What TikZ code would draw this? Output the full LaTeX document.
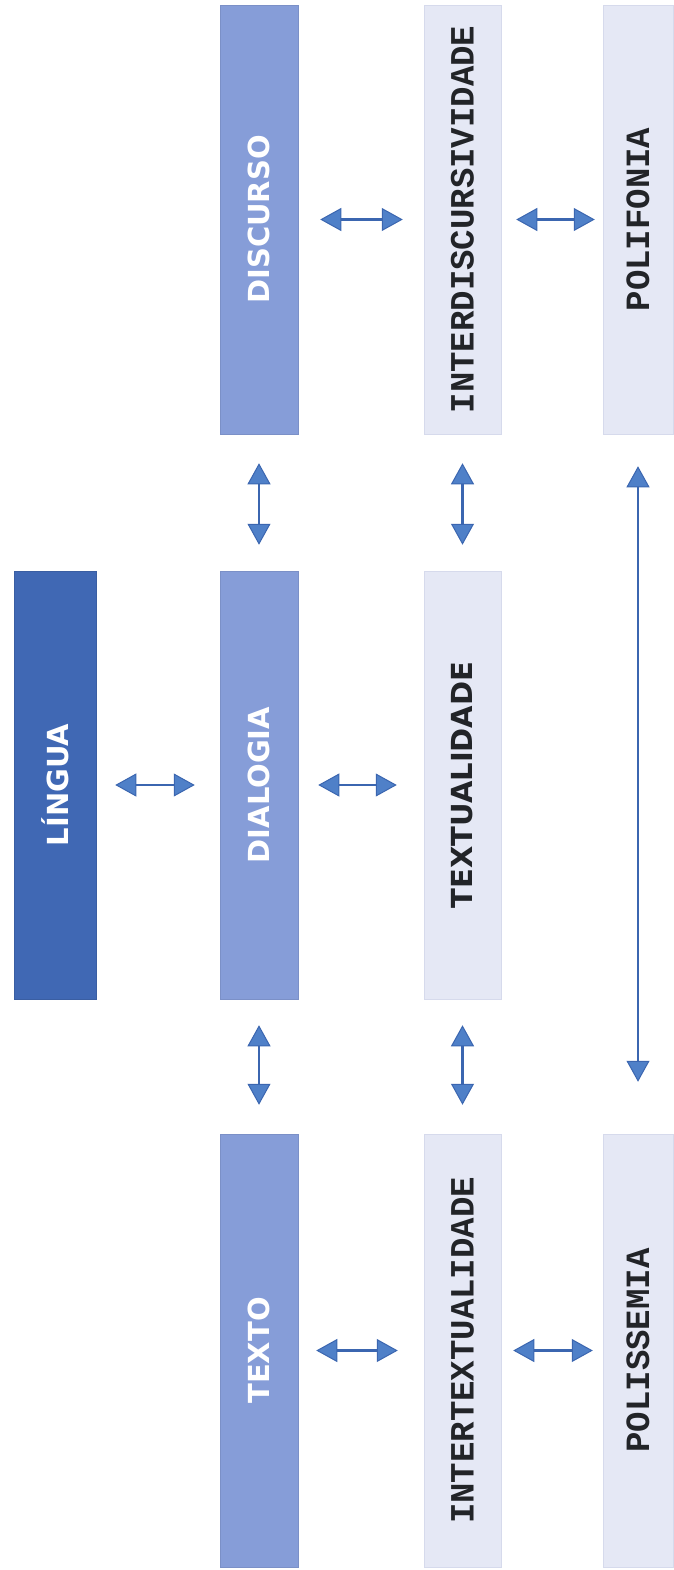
\documentclass[tikz,border=0pt]{standalone}
\usepackage{fontspec}
\usetikzlibrary{arrows.meta}
\newfontfamily\boxsans{DejaVu Sans}
\newfontfamily\boxmono{Liberation Mono}
\definecolor{darkblue}{HTML}{4068B4}
\definecolor{midblue}{HTML}{869DD8}
\definecolor{lightblue}{HTML}{E5E8F5}
\definecolor{lightedge}{HTML}{D6DAEC}
\definecolor{arrowline}{HTML}{3B66B0}
\definecolor{arrowfill}{HTML}{4F80C8}
\definecolor{inkdark}{HTML}{222428}
\begin{document}
\begin{tikzpicture}[x=1pt,y=-1pt,
  darkbox/.style={rectangle,fill=darkblue,draw=darkblue!90!black,line width=0.5pt,inner sep=0pt,
    text=white,font=\boxsans\bfseries\fontsize{29}{29}\selectfont},
  midbox/.style={rectangle,fill=midblue,draw=midblue!92!black,line width=0.5pt,inner sep=0pt,
    text=white,font=\boxsans\bfseries\fontsize{29}{29}\selectfont},
  lightsans/.style={rectangle,fill=lightblue,draw=lightedge,line width=0.5pt,inner sep=0pt,
    text=inkdark,font=\boxsans\bfseries\fontsize{29}{29}\selectfont},
  lightmono/.style={rectangle,fill=lightblue,draw=lightedge,line width=0.5pt,inner sep=0pt,
    text=inkdark,font=\boxmono\bfseries\fontsize{34}{34}\selectfont},
  colone/.style={minimum width=82pt},
  coltwo/.style={minimum width=78pt},
  colthree/.style={minimum width=77pt},
  colfour/.style={minimum width=70pt},
  rowone/.style={minimum height=429pt},
  rowtwo/.style={minimum height=428pt},
  rowthree/.style={minimum height=433pt},
  link/.style={draw=arrowline,line width=2.6pt,
    {Triangle[width=23pt,length=21pt,fill=arrowfill,line width=1pt]}-{Triangle[width=23pt,length=21pt,fill=arrowfill,line width=1pt]}},
  longlink/.style={draw=arrowline,line width=1.8pt,
    {Triangle[width=23pt,length=21pt,fill=arrowfill,line width=1pt]}-{Triangle[width=23pt,length=21pt,fill=arrowfill,line width=1pt]}}
]
\useasboundingbox (0,0) rectangle (673,1570);
\fill[white] (0,0) rectangle (673,1570);

% row 1
\node[midbox,coltwo,rowone] (discurso) at (259,219.5) {\rotatebox{90}{DISCURSO}};
\node[lightmono,colthree,rowone] (interdisc) at (462.5,219.5) {\rotatebox{90}{INTERDISCURSIVIDADE}};
\node[lightmono,colfour,rowone] (polifonia) at (638,219.5) {\rotatebox{90}{POLIFONIA}};

% row 2
\node[darkbox,colone,rowtwo] (lingua) at (55,785) {\rotatebox{90}{LÍNGUA}};
\node[midbox,coltwo,rowtwo] (dialogia) at (259,785) {\rotatebox{90}{DIALOGIA}};
\node[lightsans,colthree,rowtwo] (textualidade) at (462.5,785) {\rotatebox{90}{TEXTUALIDADE}};

% row 3
\node[midbox,coltwo,rowthree] (texto) at (259,1350.5) {\rotatebox{90}{TEXTO}};
\node[lightmono,colthree,rowthree] (intertext) at (462.5,1350.5) {\rotatebox{90}{INTERTEXTUALIDADE}};
\node[lightmono,colfour,rowthree] (polissemia) at (638,1350.5) {\rotatebox{90}{POLISSEMIA}};

% horizontal arrows
\draw[link,shorten <=22pt,shorten >=21pt] (discurso.east) -- (interdisc.west);
\draw[link,shorten <=15pt,shorten >=8pt] (interdisc.east) -- (polifonia.west);
\draw[link,shorten <=19pt,shorten >=25pt] (lingua.east) -- (dialogia.west);
\draw[link,shorten <=20pt,shorten >=27pt] (dialogia.east) -- (textualidade.west);
\draw[link,shorten <=18pt,shorten >=26pt] (texto.east) -- (intertext.west);
\draw[link,shorten <=12pt,shorten >=10pt] (intertext.east) -- (polissemia.west);

% vertical arrows
\draw[link,shorten <=29pt,shorten >=26pt] (discurso.south) -- (dialogia.north);
\draw[link,shorten <=29pt,shorten >=26pt] (interdisc.south) -- (textualidade.north);
\draw[link,shorten <=26pt,shorten >=29pt] (dialogia.south) -- (texto.north);
\draw[link,shorten <=26pt,shorten >=29pt] (textualidade.south) -- (intertext.north);
\draw[longlink,shorten <=32pt,shorten >=52pt] (polifonia.south) -- (polissemia.north);
\end{tikzpicture}
\end{document}
